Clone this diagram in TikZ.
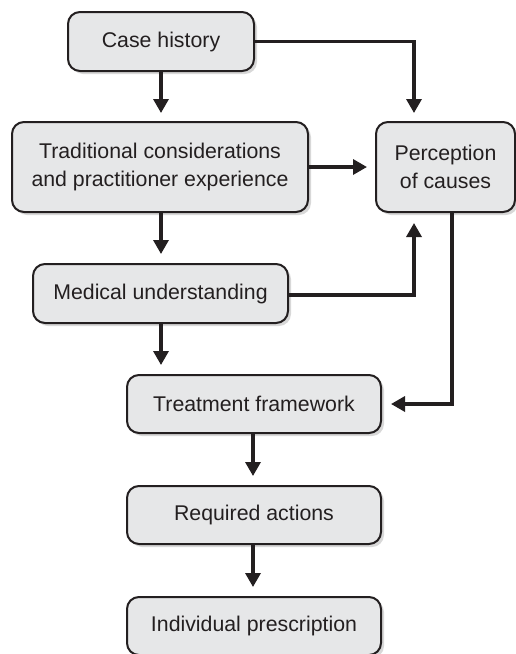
\documentclass[tikz,border=0pt]{standalone}
\usepackage{fontspec}
\setmainfont{Liberation Sans}
\usetikzlibrary{arrows.meta,calc,shadows}
\definecolor{boxfill}{HTML}{E6E7E8}
\definecolor{ink}{HTML}{231F20}
\definecolor{shade}{HTML}{D8D8D8}
\begin{document}
\begin{tikzpicture}[x=1pt,y=1pt,
  fbox/.style={draw=ink,line width=2pt,fill=boxfill,rounded corners=12pt,
    align=center,text=ink,inner sep=0pt,
    font=\fontsize{21.3}{28.5}\selectfont,
    copy shadow={shadow xshift=3pt,shadow yshift=-3pt,draw=none,fill=shade}},
  conn/.style={draw=ink,line width=3.3pt,-{Triangle[length=14pt,width=15pt]}}]
\useasboundingbox (0,0) rectangle (516,-654);
\node[fbox,minimum width=186pt,minimum height=59pt] (case) at (161,-41.5) {Case history};
\node[fbox,minimum width=296pt,minimum height=90pt] (trad) at (160,-167) {Traditional considerations\\and practitioner experience};
\node[fbox,minimum width=139pt,minimum height=90pt] (perc) at (445.5,-167) {Perception\\of causes};
\node[fbox,minimum width=255pt,minimum height=59pt] (med) at (160.5,-293.5) {Medical understanding};
\node[fbox,minimum width=254pt,minimum height=58pt] (treat) at (254,-404) {Treatment framework};
\node[fbox,minimum width=254pt,minimum height=58pt] (req) at (254,-515) {Required actions};
\node[fbox,minimum width=254pt,minimum height=58pt] (ind) at (254,-626) {Individual prescription};
\coordinate (pn) at ($(perc.north west)+(39,0)$);
\coordinate (ps) at ($(perc.south west)+(39,0)$);
\coordinate (pd) at ($(perc.south)+(6.5,0)$);
\draw[conn,shorten >=8pt] (case.south) -- (case.south |- trad.north);
\draw[conn,shorten >=8pt] (case.east) -| (pn);
\draw[conn,shorten >=8pt] (trad.east) -- (perc.west);
\draw[conn,shorten >=9pt] (trad.south -| case.south) -- (case.south |- med.north);
\draw[conn,shorten >=10pt] ($(med.east)+(0,-1.5)$) -| (ps);
\draw[conn,shorten >=9pt] (med.south -| case.south) -- (case.south |- treat.north);
\draw[conn,shorten >=9pt] (pd) |- (treat.east);
\draw[conn,shorten >=9pt] ($(treat.south)+(-1,0)$) -- ($(req.north)+(-1,0)$);
\draw[conn,shorten >=9pt] ($(req.south)+(-1,0)$) -- ($(ind.north)+(-1,0)$);
\end{tikzpicture}
\end{document}
